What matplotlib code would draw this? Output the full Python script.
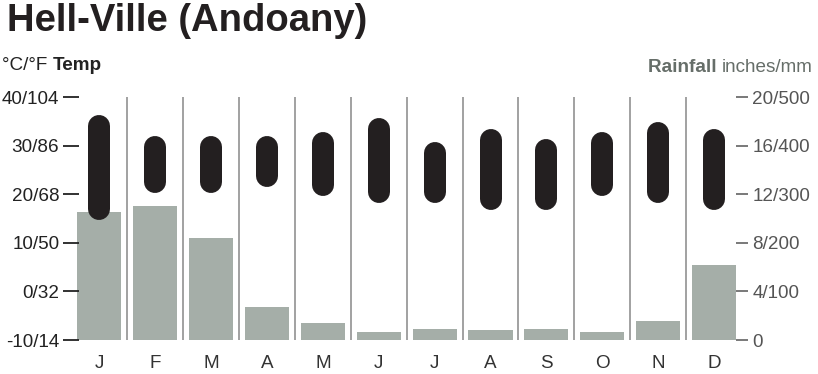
import numpy as np
import matplotlib
matplotlib.use('Agg')
import matplotlib.pyplot as plt

months = ['J', 'F', 'M', 'A', 'M', 'J', 'J', 'A', 'S', 'O', 'N', 'D']
temp_hi = [36.3, 32.0, 32.0, 32.0, 32.7, 35.6, 30.8, 33.4, 31.4, 32.8, 34.9, 33.4]
temp_lo = [14.7, 20.2, 20.2, 21.5, 19.6, 18.1, 18.1, 16.7, 16.7, 19.6, 18.1, 16.7]
rain_mm = [264, 275, 209, 68, 35, 16, 23, 20, 22, 16, 40, 154]

temp_ticks = [-10, 0, 10, 20, 30, 40]
temp_labels = ['-10/14', '0/32', '10/50', '20/68', '30/86', '40/104']
rain_ticks = [0, 100, 200, 300, 400, 500]
rain_labels = ['0', '4/100', '8/200', '12/300', '16/400', '20/500']

fam = ['Liberation Sans', 'DejaVu Sans']
rain_col = '#a5aea8'
temp_col = '#231f20'
fs = 13.6

fig = plt.figure(figsize=(8.18, 3.74), dpi=100)
ax = fig.add_axes([0.0874, 0.0909, 0.8196, 0.6497])
ax2 = ax.twinx()

x = np.arange(len(months))

# rainfall bars on the right axis
ax2.bar(x, rain_mm, width=0.79, color=rain_col, zorder=1)
ax2.set_ylim(0, 500)

# month dividers
for xi in x[:-1]:
    ax.axvline(xi + 0.5, color='#9a9a9a', lw=1.3, zorder=0)

# temperature range bars with rounded ends
ax.set_zorder(ax2.get_zorder() + 1)
ax.patch.set_visible(False)
ax.set_ylim(-10, 40)
ax.set_xlim(-0.5, 11.5)
lw_px = 22
ax_h_px = ax.get_position().height * fig.get_figheight() * fig.dpi
r = (lw_px / 2) / (ax_h_px / 50.0)
ax.vlines(x, np.array(temp_lo) + r, np.array(temp_hi) - r, color=temp_col,
          lw=lw_px * 72 / fig.dpi, capstyle='round', zorder=3)

for a in (ax, ax2):
    for s in a.spines.values():
        s.set_visible(False)

ax.set_yticks(temp_ticks)
ax.set_yticklabels(temp_labels, family=fam, fontsize=fs, color='#222222')
ax.tick_params(axis='y', direction='inout', length=11.5, width=1.3, color='#222222', pad=3)
ax.set_xticks(x)
ax.set_xticklabels(months, family=fam, fontsize=fs, color='#333333')
ax.tick_params(axis='x', length=0, pad=11)

ax2.set_yticks(rain_ticks)
ax2.set_yticklabels(rain_labels, family=fam, fontsize=fs, color='#555555')
ax2.tick_params(axis='y', direction='inout', length=9, width=1.1, color='#555555', pad=3)

fig.text(0.008, 0.993, 'Hell-Ville (Andoany)', fontsize=27.5, weight='bold',
         color='#231f20', va='top', ha='left', family=fam)

renderer = fig.canvas.get_renderer()
t1 = fig.text(0.003, 0.813, '°C/°F ', fontsize=fs, color='#222222',
              va='baseline', ha='left', family=fam)
bb = t1.get_window_extent(renderer)
fig.text(bb.x1 / fig.bbox.width, 0.813, 'Temp', fontsize=fs, weight='bold',
         color='#222222', va='baseline', ha='left', family=fam)

t2 = fig.text(0.993, 0.807, 'inches/mm', fontsize=fs, color='#666e69',
              va='baseline', ha='right', family=fam)
bb = t2.get_window_extent(renderer)
fig.text(bb.x0 / fig.bbox.width, 0.807, 'Rainfall ', fontsize=fs, weight='bold',
         color='#666e69', va='baseline', ha='right', family=fam)

fig.savefig('out.png', dpi=100)
